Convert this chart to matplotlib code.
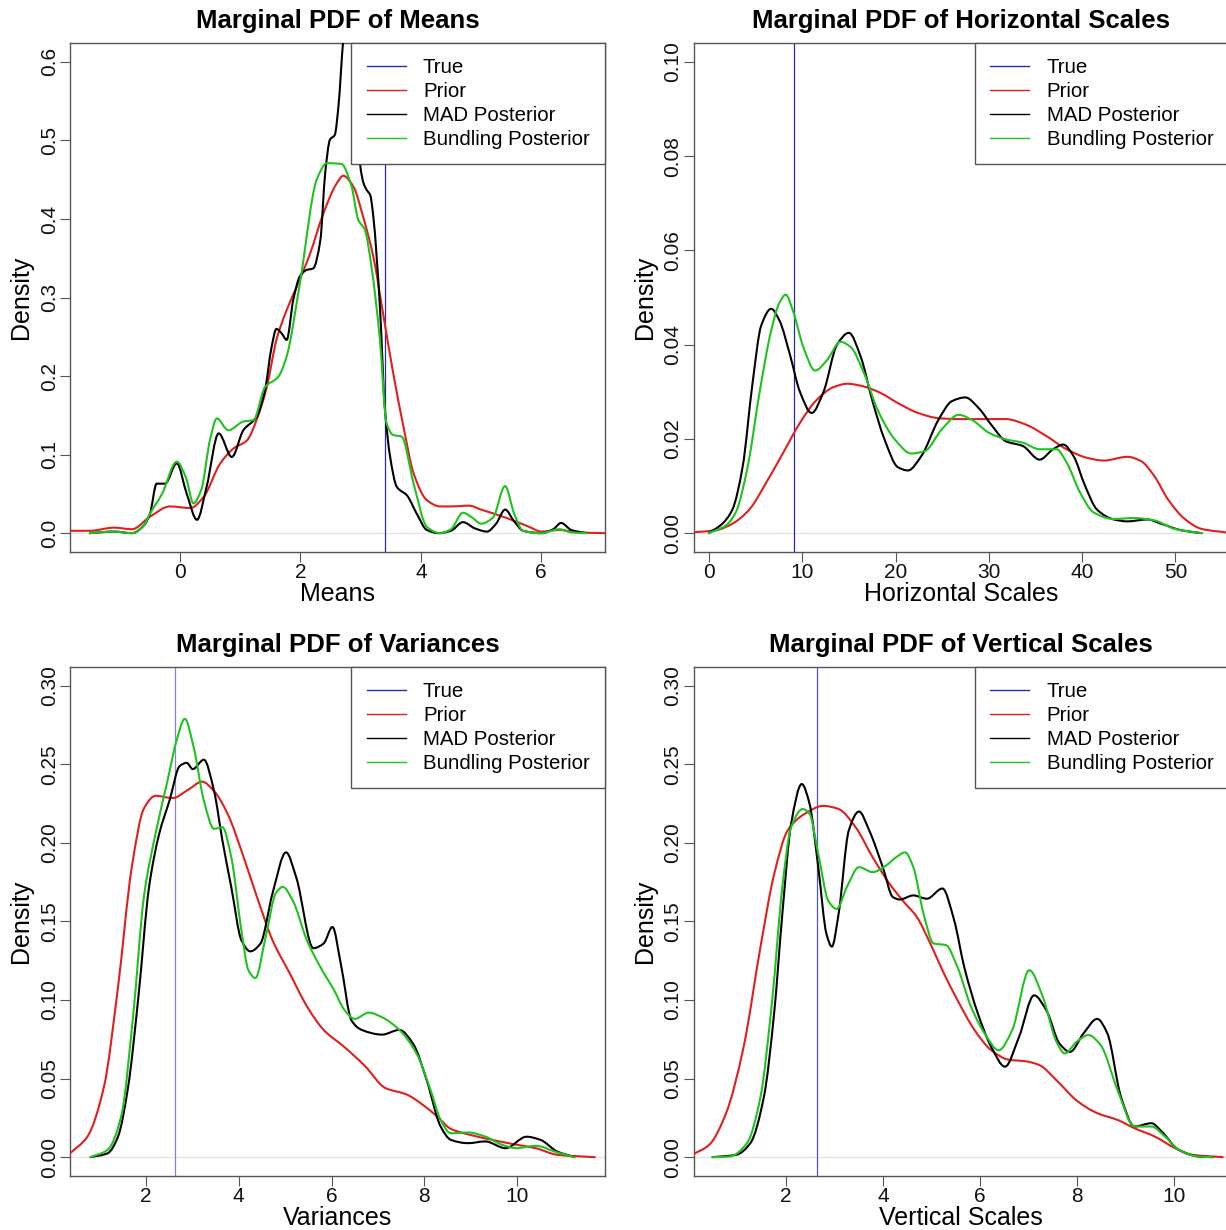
import matplotlib
matplotlib.use("Agg")
import matplotlib.pyplot as plt
from matplotlib.lines import Line2D
from matplotlib.path import Path
from matplotlib.patches import PathPatch

plt.rcParams['font.family'] = ['Liberation Sans', 'DejaVu Sans']

# ---------------- data: Means ----------------
means_true = 3.40
means_prior_x = [-1.83, -1.5, -1.1, -0.8, -0.5, -0.17, 0.17, 0.39, 0.66, 0.89, 1.11, 1.27, 1.44, 1.6, 1.77,
                 1.94, 2.16, 2.38, 2.6, 2.71, 2.88, 3.04, 3.21, 3.38, 3.54, 3.71, 3.88, 4.1, 4.32, 4.5,
                 4.8, 5.0, 5.4, 5.8, 6.0, 6.3, 6.6, 7.06]
means_prior_y = [0.003, 0.003, 0.007, 0.005, 0.021, 0.034, 0.032, 0.046, 0.088, 0.108, 0.118, 0.144, 0.186,
                 0.246, 0.284, 0.314, 0.356, 0.407, 0.445, 0.455, 0.441, 0.403, 0.352, 0.276, 0.204, 0.136,
                 0.076, 0.042, 0.034, 0.034, 0.035, 0.030, 0.020, 0.008, 0.002, 0.004, 0.001, 0.0]
means_mad_x = [-1.5, -1.1, -0.8, -0.6, -0.5, -0.39, -0.25, -0.056, 0.11, 0.28, 0.44, 0.64, 0.86, 1.05, 1.27,
               1.41, 1.52, 1.6, 1.69, 1.77, 1.88, 1.99, 2.1, 2.21, 2.33, 2.41, 2.49, 2.57, 2.63, 2.71,
               2.78, 2.84, 2.9, 2.95, 2.99, 3.05, 3.1, 3.16, 3.21, 3.32, 3.4, 3.49, 3.6, 3.77, 3.93, 4.1,
               4.3, 4.5, 4.7, 4.9, 5.1, 5.25, 5.4, 5.55, 5.7, 6.0, 6.2, 6.33, 6.5, 6.75]
means_mad_y = [0.0, 0.002, 0.0, 0.01, 0.025, 0.063, 0.063, 0.089, 0.05, 0.017, 0.059, 0.127, 0.097, 0.131,
               0.148, 0.182, 0.237, 0.26, 0.254, 0.246, 0.297, 0.327, 0.335, 0.337, 0.373, 0.458, 0.501,
               0.507, 0.543, 0.628, 0.68, 0.69, 0.62, 0.53, 0.47, 0.445, 0.437, 0.43, 0.403, 0.288, 0.161,
               0.097, 0.059, 0.048, 0.025, 0.004, 0.0, 0.003, 0.014, 0.006, 0.002, 0.012, 0.03, 0.015,
               0.003, 0.0, 0.005, 0.013, 0.004, 0.0]
means_bund_x = [-1.5, -1.1, -0.8, -0.6, -0.5, -0.3, -0.056, 0.1, 0.22, 0.35, 0.5, 0.61, 0.8, 1.05, 1.22,
                1.41, 1.63, 1.77, 1.99, 2.27, 2.44, 2.68, 2.85, 2.96, 3.07, 3.18, 3.32, 3.43, 3.54, 3.68,
                3.88, 4.1, 4.32, 4.5, 4.7, 4.85, 5.0, 5.2, 5.4, 5.55, 5.7, 6.0, 6.3, 6.5, 6.75]
means_bund_y = [0.0, 0.002, 0.0, 0.01, 0.025, 0.05, 0.091, 0.07, 0.038, 0.055, 0.12, 0.146, 0.131, 0.142,
                0.144, 0.186, 0.199, 0.225, 0.318, 0.45, 0.471, 0.470, 0.441, 0.399, 0.386, 0.339, 0.246,
                0.140, 0.125, 0.123, 0.063, 0.008, 0.0, 0.005, 0.026, 0.02, 0.012, 0.02, 0.06, 0.025,
                0.003, 0.0, 0.005, 0.001, 0.0]

# ---------------- data: Horizontal Scales ----------------
hs_true = 9.1
hs_prior_x = [-1.66, 0.69, 2.5, 4.31, 6.12, 7.93, 9.74, 11.55, 13.36, 14.81, 16.62, 18.43, 20.24, 22.41,
              24.58, 26.75, 29.3, 31.82, 34.0, 36.16, 38.33, 40.5, 42.31, 44.85, 46.3, 47.74, 49.19, 51.0,
              52.8, 55.7]
hs_prior_y = [0.0002, 0.0006, 0.002, 0.005, 0.0107, 0.017, 0.0234, 0.0283, 0.031, 0.0317, 0.0311, 0.0297,
              0.0276, 0.0255, 0.0244, 0.0242, 0.0242, 0.0242, 0.023, 0.0206, 0.0178, 0.016, 0.0154,
              0.0162, 0.0153, 0.0121, 0.0072, 0.003, 0.0009, 0.0001]
hs_mad_x = [-0.03, 1.42, 2.5, 3.59, 4.67, 5.58, 6.66, 7.57, 8.65, 9.74, 11.0, 12.27, 13.72, 14.99, 16.26,
            17.52, 18.79, 20.24, 21.32, 22.77, 24.58, 26.03, 27.47, 28.92, 30.37, 31.82, 33.63, 35.44,
            36.88, 37.97, 39.06, 40.32, 41.59, 43.4, 44.85, 47.0, 48.47, 50.64, 52.81]
hs_mad_y = [0.0, 0.002, 0.005, 0.014, 0.032, 0.044, 0.0476, 0.045, 0.038, 0.030, 0.0255, 0.030, 0.040,
            0.0425, 0.0374, 0.028, 0.020, 0.014, 0.0133, 0.0164, 0.024, 0.028, 0.0288, 0.0265, 0.0227,
            0.0195, 0.0185, 0.0156, 0.0178, 0.0188, 0.0164, 0.010, 0.005, 0.0029, 0.0025, 0.0029, 0.002,
            0.0006, 0.0]
hs_bund_x = [-0.03, 1.78, 2.86, 4.13, 5.4, 6.66, 7.57, 8.22, 9.02, 10.1, 11.37, 12.64, 14.08, 15.17, 16.62,
             18.06, 19.87, 21.68, 23.13, 24.94, 26.75, 28.2, 30.0, 31.82, 33.63, 35.44, 37.25, 38.33,
             39.78, 41.23, 43.4, 45.57, 47.74, 49.91, 52.81]
hs_bund_y = [0.0, 0.0016, 0.0044, 0.014, 0.0297, 0.043, 0.049, 0.0506, 0.047, 0.0395, 0.0345, 0.0367,
             0.0406, 0.0395, 0.0339, 0.0262, 0.020, 0.0169, 0.0174, 0.022, 0.0251, 0.024, 0.0213, 0.0199,
             0.0192, 0.0178, 0.0178, 0.015, 0.0086, 0.0044, 0.003, 0.0032, 0.0027, 0.0009, 0.0]

# ---------------- data: Variances ----------------
var_true = 2.62
var_prior_x = [0.37, 0.74, 1.1, 1.4, 1.7, 1.96, 2.21, 2.58, 2.92, 3.21, 3.47, 3.77, 4.06, 4.39, 4.73, 5.1,
               5.47, 5.83, 6.28, 6.72, 7.16, 7.61, 7.98, 8.27, 8.57, 9.01, 9.46, 9.97, 10.4, 10.86, 11.67]
var_prior_y = [0.0025, 0.013, 0.045, 0.108, 0.185, 0.222, 0.230, 0.2286, 0.234, 0.239, 0.233, 0.218,
               0.195, 0.166, 0.138, 0.117, 0.096, 0.081, 0.070, 0.058, 0.044, 0.040, 0.033, 0.026, 0.018,
               0.014, 0.011, 0.008, 0.0057, 0.0015, 0.0]
var_mad_x = [0.81, 1.18, 1.4, 1.62, 1.84, 2.07, 2.29, 2.51, 2.73, 2.88, 3.01, 3.25, 3.47, 3.65, 3.84, 4.06,
             4.25, 4.47, 4.73, 5.02, 5.24, 5.61, 5.83, 6.02, 6.2, 6.43, 6.65, 7.09, 7.46, 7.76, 8.05,
             8.35, 8.57, 8.94, 9.31, 9.75, 10.2, 10.5, 10.86, 11.23]
var_mad_y = [0.0, 0.0025, 0.013, 0.045, 0.102, 0.172, 0.206, 0.227, 0.249, 0.251, 0.247, 0.253, 0.233,
             0.2015, 0.172, 0.138, 0.131, 0.136, 0.168, 0.194, 0.178, 0.133, 0.136, 0.1465, 0.123, 0.087,
             0.081, 0.078, 0.081, 0.072, 0.049, 0.0195, 0.011, 0.0089, 0.010, 0.0057, 0.013, 0.011,
             0.0036, 0.0]
var_bund_x = [0.81, 1.18, 1.47, 1.73, 1.96, 2.21, 2.47, 2.66, 2.84, 3.03, 3.25, 3.47, 3.65, 3.84, 4.06,
              4.21, 4.36, 4.58, 4.8, 4.95, 5.17, 5.47, 5.76, 6.06, 6.28, 6.5, 6.8, 7.09, 7.46, 7.83, 8.13,
              8.35, 8.57, 8.94, 9.31, 9.68, 9.97, 10.4, 10.86, 11.23]
var_bund_y = [0.0, 0.0047, 0.026, 0.091, 0.166, 0.206, 0.24, 0.265, 0.279, 0.261, 0.227, 0.209, 0.21,
              0.191, 0.144, 0.119, 0.114, 0.140, 0.168, 0.172, 0.163, 0.138, 0.121, 0.106, 0.0936, 0.088,
              0.092, 0.089, 0.081, 0.066, 0.043, 0.0237, 0.0152, 0.0157, 0.0131, 0.0078, 0.0057, 0.0072,
              0.003, 0.0]

# ---------------- data: Vertical Scales ----------------
vs_true = 2.64
vs_prior_x = [0.06, 0.41, 0.76, 1.12, 1.47, 1.75, 2.03, 2.38, 2.76, 3.08, 3.43, 3.78, 4.13, 4.41, 4.69,
              4.97, 5.25, 5.53, 5.88, 6.23, 6.59, 6.94, 7.22, 7.57, 7.99, 8.41, 8.83, 9.18, 9.6, 10.02,
              10.37, 11.0]
vs_prior_y = [0.0015, 0.0078, 0.028, 0.070, 0.134, 0.180, 0.208, 0.2185, 0.2236, 0.2216, 0.21, 0.191,
              0.174, 0.163, 0.153, 0.136, 0.117, 0.10, 0.081, 0.068, 0.062, 0.061, 0.0586, 0.049, 0.036,
              0.028, 0.0237, 0.0184, 0.0131, 0.0057, 0.0015, 0.0]
vs_mad_x = [0.48, 0.97, 1.26, 1.54, 1.75, 1.92, 2.1, 2.32, 2.48, 2.66, 2.83, 2.94, 3.08, 3.29, 3.5, 3.71,
            3.99, 4.2, 4.34, 4.62, 4.9, 5.22, 5.46, 5.67, 5.95, 6.23, 6.51, 6.8, 7.11, 7.36, 7.64, 7.85,
            8.13, 8.41, 8.62, 8.9, 9.18, 9.53, 9.74, 10.09, 10.51, 10.79]
vs_mad_y = [0.0, 0.0015, 0.0089, 0.0385, 0.0915, 0.155, 0.212, 0.2375, 0.225, 0.1846, 0.142, 0.134,
            0.155, 0.208, 0.22, 0.208, 0.1846, 0.1655, 0.164, 0.1666, 0.1645, 0.171, 0.151, 0.121,
            0.0915, 0.070, 0.0576, 0.0766, 0.103, 0.0936, 0.072, 0.067, 0.0788, 0.088, 0.0788, 0.0385,
            0.0195, 0.0216, 0.0163, 0.0047, 0.0004, 0.0]
vs_bund_x = [0.48, 0.83, 1.19, 1.47, 1.71, 1.92, 2.1, 2.34, 2.48, 2.66, 2.87, 3.04, 3.25, 3.5, 3.78, 4.06,
             4.27, 4.45, 4.62, 4.83, 5.04, 5.29, 5.53, 5.81, 6.09, 6.38, 6.66, 7.01, 7.29, 7.57, 7.74,
             7.99, 8.23, 8.48, 8.83, 9.18, 9.53, 9.81, 10.09, 10.51, 10.79]
vs_bund_y = [0.0, 0.0004, 0.0089, 0.0385, 0.10, 0.172, 0.21, 0.2216, 0.2185, 0.193, 0.163, 0.158, 0.172,
             0.1846, 0.1814, 0.1857, 0.191, 0.194, 0.1846, 0.155, 0.136, 0.135, 0.121, 0.0957, 0.0788,
             0.068, 0.081, 0.119, 0.102, 0.0735, 0.066, 0.0735, 0.0777, 0.0714, 0.0428, 0.0195, 0.0195,
             0.0131, 0.0047, 0.0004, 0.0]

legend_labels = ["True", "Prior", "MAD Posterior", "Bundling Posterior"]

C_PRIOR = '#e01f1f'
C_MAD = '#000000'
C_BUND = '#1fc21f'
C_TRUE_LEG = '#2b2bb0'
FRAME = '#555555'

fig = plt.figure(figsize=(12.26, 12.30), dpi=100)
W, H = 1226.0, 1230.0


def make_ax(left_px, top_px, width_px=535.0, height_px=509.0):
    return fig.add_axes([left_px / W, 1 - (top_px + height_px) / H, width_px / W, height_px / H])


def smooth_curve(ax, xs, ys, color, lw=1.5, z=3):
    """Draw a smooth curve through the given knots as cubic Bezier segments
    (monotone Hermite tangents), in data coordinates."""
    n = len(xs)
    h = [xs[i + 1] - xs[i] for i in range(n - 1)]
    d = [(ys[i + 1] - ys[i]) / h[i] for i in range(n - 1)]
    m = [0.0] * n
    m[0], m[-1] = d[0], d[-1]
    for i in range(1, n - 1):
        if d[i - 1] * d[i] <= 0:
            m[i] = 0.0
        else:
            w1 = 2 * h[i] + h[i - 1]
            w2 = h[i] + 2 * h[i - 1]
            m[i] = (w1 + w2) / (w1 / d[i - 1] + w2 / d[i])
    verts = [(xs[0], ys[0])]
    codes = [Path.MOVETO]
    for i in range(n - 1):
        verts += [(xs[i] + h[i] / 3, ys[i] + m[i] * h[i] / 3),
                  (xs[i + 1] - h[i] / 3, ys[i + 1] - m[i + 1] * h[i] / 3),
                  (xs[i + 1], ys[i + 1])]
        codes += [Path.CURVE4] * 3
    patch = PathPatch(Path(verts, codes), facecolor='none', edgecolor=color, lw=lw, zorder=z,
                      capstyle='round', joinstyle='round')
    ax.add_patch(patch)


panels = [
    dict(pos=(70, 43), title="Marginal PDF of Means", xlabel="Means", true=means_true, tcol='#2a2aa0',
         prior=(means_prior_x, means_prior_y), mad=(means_mad_x, means_mad_y),
         bund=(means_bund_x, means_bund_y), xlim=(-1.83, 7.06), ylim=(0, 0.6),
         xticks=[0, 2, 4, 6], yticks=[0, 0.1, 0.2, 0.3, 0.4, 0.5, 0.6], yfmt="{:.1f}"),
    dict(pos=(693.6, 43), title="Marginal PDF of Horizontal Scales", xlabel="Horizontal Scales",
         true=hs_true, tcol='#2a2aa0', prior=(hs_prior_x, hs_prior_y), mad=(hs_mad_x, hs_mad_y),
         bund=(hs_bund_x, hs_bund_y), xlim=(-1.66, 55.7), ylim=(0, 0.10),
         xticks=[0, 10, 20, 30, 40, 50], yticks=[0, 0.02, 0.04, 0.06, 0.08, 0.10], yfmt="{:.2f}"),
    dict(pos=(70, 667), title="Marginal PDF of Variances", xlabel="Variances", true=var_true,
         tcol='#8484cc', prior=(var_prior_x, var_prior_y), mad=(var_mad_x, var_mad_y),
         bund=(var_bund_x, var_bund_y), xlim=(0.367, 11.89), ylim=(0, 0.30),
         xticks=[2, 4, 6, 8, 10], yticks=[0, 0.05, 0.10, 0.15, 0.20, 0.25, 0.30], yfmt="{:.2f}"),
    dict(pos=(693.6, 667), title="Marginal PDF of Vertical Scales", xlabel="Vertical Scales",
         true=vs_true, tcol='#5656b8', prior=(vs_prior_x, vs_prior_y), mad=(vs_mad_x, vs_mad_y),
         bund=(vs_bund_x, vs_bund_y), xlim=(0.09, 11.12), ylim=(0, 0.30),
         xticks=[2, 4, 6, 8, 10], yticks=[0, 0.05, 0.10, 0.15, 0.20, 0.25, 0.30], yfmt="{:.2f}"),
]

for p in panels:
    ax = make_ax(*p['pos'])
    y0, y1 = p['ylim']
    pad = 0.04 * (y1 - y0)
    ax.set_xlim(*p['xlim'])
    ax.set_ylim(y0 - pad, y1 + pad)
    ax.axhline(0, color='#e3e3e3', lw=0.9, zorder=1)
    ax.axvline(p['true'], color=p['tcol'], lw=0.9, zorder=2)
    smooth_curve(ax, *p['prior'], color=C_PRIOR, z=3)
    smooth_curve(ax, *p['mad'], color=C_MAD, z=4)
    smooth_curve(ax, *p['bund'], color=C_BUND, z=5)

    ax.set_xticks(p['xticks'])
    ax.set_xticklabels([str(t) for t in p['xticks']])
    ax.set_yticks(p['yticks'])
    ax.set_yticklabels([p['yfmt'].format(t) for t in p['yticks']])
    ax.tick_params(axis='both', direction='out', length=7, width=0.8, color=FRAME,
                   labelsize=15, labelcolor='#111111')
    ax.tick_params(axis='x', pad=1)
    ax.tick_params(axis='y', pad=1, labelrotation=90)
    for lab in ax.get_yticklabels():
        lab.set_verticalalignment('center')
    for s in ax.spines.values():
        s.set_color(FRAME)
        s.set_linewidth(1.0)

    ax.set_title(p['title'], fontsize=18.5, fontweight='bold', pad=11)
    ax.set_xlabel(p['xlabel'], fontsize=18, labelpad=0)
    ax.set_ylabel("Density", fontsize=18, labelpad=5)

    handles = [Line2D([], [], color=c, lw=1.0) for c in (C_TRUE_LEG, C_PRIOR, C_MAD, C_BUND)]
    leg = ax.legend(handles, legend_labels, loc='upper right', bbox_to_anchor=(1, 1),
                    borderaxespad=0, fancybox=False, framealpha=1, edgecolor=FRAME,
                    fontsize=14.7, handlelength=1.9, handletextpad=0.85, borderpad=0.75,
                    labelspacing=0.24)
    leg.get_frame().set_linewidth(1.0)
    leg.set_zorder(10)

fig.savefig("out.png", dpi=100, facecolor='white')
